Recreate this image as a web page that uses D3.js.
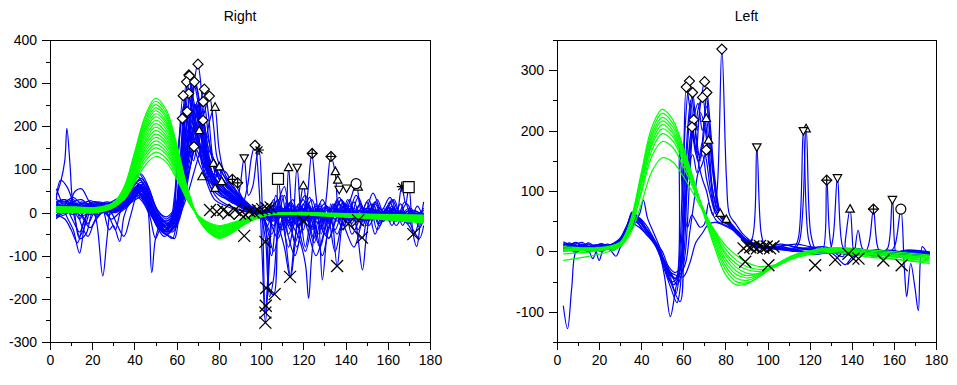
<!DOCTYPE html>
<html lang="en">
<head>
<meta charset="utf-8">
<title>Right / Left</title>
<script src="https://d3js.org/d3.v7.min.js"></script>
<style>
body { margin: 0; background: #fff; }
.axis path, .axis line { fill: none; stroke: #000; shape-rendering: crispEdges; }
.axis text { font-family: "Liberation Sans", Arial, sans-serif; font-size: 14px; fill: #000; }
.title { font-family: "Liberation Sans", Arial, sans-serif; font-size: 14px; fill: #000; }
</style>
</head>
<body>
<script>
// ---- Right panel data ----
var rightPulses = [
  [[3,15],[7,22],[11,12],[15,18],[19,10],[23,14],[27,8],[31,16],[35,28],[39,45],[43,60],[47,25],[51,-20],[55,-35],[59,-15],[62,40],[65,150],[68,290],[70,344],[72,270],[74,160],[77,90],[80,60],[84,40],[88,25],[92,12],[96,5],[100,0],[104,-8],[108,5],[112,-12],[116,2],[120,-10],[125,-3],[130,-12],[135,-5],[140,-10],[146,-4],[152,-12],[158,-6],[164,-10],[170,-5],[177,-8]],
  [[3,-15],[6,8],[9,30],[12,-20],[14,-55],[17,-25],[20,12],[24,5],[28,-5],[32,12],[36,30],[40,70],[44,50],[48,0],[52,-30],[56,-45],[59,-20],[61,60],[63,200],[65.8,319],[68,230],[70,150],[72,200],[74,120],[77,70],[81,45],[85,30],[89,15],[93,5],[97,0],[100,-5],[103,-30],[106,10],[110,-40],[114,20],[118,-20],[122,15],[126,-15],[131,10],[136,-20],[141,5],[147,-15],[153,8],[159,-10],[165,0],[171,-12],[177,-5]],
  [[3,40],[5,70],[7,120],[8,195],[9.5,110],[11,20],[14,-15],[17,10],[21,18],[25,8],[29,14],[33,25],[37,40],[41,85],[45,60],[49,10],[53,-25],[57,-30],[60,10],[63,180],[66,317],[68,260],[70,220],[73,140],[76,80],[80,55],[84,45],[88,30],[92,15],[96,5],[100,-2],[104,-10],[109,15],[114,-25],[119,10],[124,-5],[130,-15],[136,0],[142,-10],[148,5],[154,-8],[160,-2],[166,-12],[172,-6],[177,-10]],
  [[3,55],[5,30],[8,-10],[11,-40],[14,-94],[16,-40],[19,20],[22,25],[26,12],[30,8],[34,18],[38,35],[42,55],[46,30],[50,-15],[54,-40],[58,-25],[61,80],[64.7,303],[67,240],[69,180],[71,230],[73,130],[76,70],[79,50],[83,35],[87,25],[91,10],[95,3],[100,-4],[104,5],[108,-10],[113,8],[118,-15],[124,0],[130,-10],[137,3],[144,-12],[151,0],[158,-9],[165,-3],[171,-10],[177,-6]],
  [[3,20],[7,25],[11,15],[15,20],[19,25],[22,-20],[25,-147],[27,-60],[29,10],[32,25],[35,30],[39,50],[43,40],[47,5],[51,-30],[55,-50],[59,-30],[62,20],[65,160],[68.4,303],[71,250],[73,190],[75,120],[78,80],[81,60],[85,40],[89,22],[93,10],[97,2],[100,-3],[103,-60],[105,-100],[107,-20],[110,40],[113,-50],[116,-10],[120,30],[124,-40],[128,10],[132,-20],[137,20],[142,-15],[148,10],[154,-12],[160,5],[166,-10],[172,0],[177,-8]],
  [[3,30],[5,75],[8,60],[11,20],[14,-60],[17,-50],[20,0],[24,20],[28,-40],[30,-30],[33,-67],[35,-10],[38,30],[42,65],[46,40],[50,-5],[54,-30],[58,-20],[61,50],[63.5,200],[65.7,276],[68,200],[70,250],[72,180],[75,100],[78,70],[82,50],[86,35],[90,20],[94,8],[98,0],[101,-10],[105,-50],[108,20],[111,60],[114,-30],[117,-80],[120,-20],[124,30],[128,-30],[132,-60],[136,-10],[140,20],[145,-20],[150,10],[156,-15],[162,5],[168,-10],[174,-2],[177,-6]],
  [[3,5],[8,10],[12,50],[15,55],[18,30],[21,10],[25,15],[29,0],[32,-30],[35,-55],[38,-10],[41,40],[45,70],[48,40],[51,0],[55,-25],[58,-15],[60,80],[63.1,271],[65,220],[67,150],[69,200],[71,150],[73,100],[76,60],[80,40],[84,30],[88,20],[92,10],[96,3],[100,0],[104,-12],[108,3],[113,-18],[118,0],[123,-14],[128,2],[134,-10],[140,5],[146,-12],[152,2],[158,-10],[164,0],[170,-12],[177,-4]],
  [[3,20],[7,15],[11,25],[15,-30],[18,-55],[21,-20],[25,15],[29,-20],[31,-40],[34,10],[38,25],[42,45],[46,20],[50,-25],[54,-55],[58,-40],[61,-10],[64,60],[67,120],[70,220],[73.1,286],[75,230],[77,130],[79,90],[82,60],[86,40],[90,25],[94,10],[98,2],[102,-5],[106,-20],[110,10],[114,-30],[118,5],[122,-20],[127,10],[132,-15],[138,5],[144,-10],[150,0],[156,-10],[162,-2],[168,-12],[174,-4],[177,-8]],
  [[3,10],[7,12],[11,8],[15,14],[19,10],[23,6],[27,12],[31,18],[35,30],[39,55],[43,45],[47,10],[51,-15],[55,-30],[59,-10],[62,20],[65,80],[68,140],[71,200],[73,230],[75.5,270],[77.5,200],[79,130],[81,100],[84,70],[88,45],[92,20],[96,5],[100,-2],[104,0],[108,-8],[113,5],[118,-10],[124,-2],[130,-12],[136,-4],[142,-12],[148,-3],[155,-10],[162,-4],[170,-10],[177,-6]],
  [[3,25],[7,30],[11,18],[15,25],[19,18],[23,25],[27,20],[31,30],[35,40],[39,60],[43,75],[47,35],[51,-10],[55,-20],[59,0],[62,60],[65,150],[68,200],[70,230],[72.6,257],[75,180],[77,120],[80,80],[83,65],[87,50],[91,30],[95,15],[99,5],[102,0],[106,15],[110,-5],[114,25],[118,-10],[122,20],[126,-5],[131,15],[136,-10],[141,10],[147,-8],[153,6],[159,-8],[165,2],[171,-8],[177,-3]],
  [[3,0],[7,5],[11,-5],[15,5],[19,0],[23,8],[27,2],[31,10],[35,20],[39,40],[43,30],[47,-5],[50,-60],[52,-40],[56,-25],[59,-5],[62,100],[65,234],[67,180],[69,150],[71,180],[73,120],[76,60],[80,30],[84,18],[88,10],[92,4],[96,0],[100,-4],[104,-15],[108,-5],[112,-20],[116,-8],[120,-18],[125,-6],[130,-16],[135,-5],[141,-15],[147,-6],[153,-14],[159,-6],[165,-14],[171,-6],[177,-10]],
  [[3,12],[7,8],[11,15],[15,10],[19,5],[23,12],[27,8],[31,5],[35,15],[39,35],[43,50],[47,20],[51,-20],[55,-40],[58,-10],[60.5,120],[62.7,218],[65,160],[67,200],[69,140],[71,110],[73,90],[76,70],[79,60],[82,45],[86,30],[90,15],[94,5],[98,0],[101,-5],[104,-195],[106,-150],[108,-30],[111,40],[114,-20],[118,-60],[121,-120],[122.5,-199],[124,-100],[127,10],[130,-40],[134,20],[138,-30],[143,10],[148,-20],[153,5],[159,-15],[165,0],[171,-10],[177,-5]],
  [[3,-10],[7,0],[11,10],[15,5],[19,-5],[23,5],[27,0],[31,10],[35,15],[39,30],[43,55],[47,25],[51,-10],[55,-35],[58,-45],[61,-20],[64,40],[67,120],[70,180],[72.5,214],[74.5,160],[76,120],[78,110],[80,90],[83,70],[86,50],[90,30],[94,15],[98,5],[102,0],[106,-10],[110,5],[114,-15],[118,0],[122,-12],[127,3],[133,-10],[139,0],[145,-10],[151,-2],[157,-10],[163,-3],[169,-10],[177,-5]],
  [[3,15],[7,10],[11,20],[15,12],[19,18],[23,10],[27,15],[31,20],[35,35],[39,50],[43,70],[47,45],[51,5],[55,-15],[59,5],[62,60],[65,120],[68.2,153],[71,130],[73,110],[76,90],[79,70],[82,65],[84.5,70],[86.4,77],[88.5,60],[91,35],[94,15],[97,5],[100,0],[104,-5],[108,8],[112,-8],[116,5],[121,-8],[126,4],[131,-8],[137,2],[143,-8],[149,2],[155,-6],[161,0],[167,-8],[173,-2],[177,-5]],
  [[3,5],[7,15],[11,0],[15,10],[19,5],[23,15],[27,5],[31,12],[35,25],[39,40],[43,60],[47,30],[51,-10],[55,-30],[59,-15],[62,80],[64.5,200],[67,240],[69,200],[71,140],[74,100],[77,70],[80,55],[84,40],[88,30],[91,20],[93.5,60],[95.5,130],[97.1,156],[99,60],[100.5,-100],[102,-255],[103.5,-150],[105,-20],[107,40],[110,-20],[113,-80],[115,-40],[118,20],[122,-30],[126,10],[130,-20],[135,15],[140,-15],[146,5],[152,-12],[158,0],[165,-10],[171,-3],[177,-7]],
  [[3,20],[7,10],[11,25],[15,30],[19,15],[23,20],[27,10],[31,5],[35,20],[39,45],[43,35],[47,0],[51,-30],[55,-45],[59,-35],[62,0],[65,100],[68,200],[70,230],[72,190],[74,130],[77,80],[80,50],[84,30],[88,20],[90,60],[92,127],[94,40],[96,60],[98,130],[99,145],[100.5,20],[102,-230],[103.5,-120],[105,-10],[108,30],[111,-40],[114,-150],[115.5,-100],[118,10],[121,40],[124,-20],[128,-80],[131,-20],[135,20],[139,-30],[144,10],[149,-20],[155,5],[161,-15],[167,0],[172,-12],[177,-6]],
  [[3,-5],[7,5],[11,0],[15,8],[19,3],[23,10],[27,5],[31,8],[35,18],[39,35],[43,45],[47,15],[51,-25],[55,-40],[59,-20],[62,40],[65,140],[68,220],[70,260],[72,200],[74,140],[77,90],[80,60],[84,40],[88,25],[92,12],[96,5],[99,0],[102,-60],[104,-180],[106,-190],[108,78],[110,0],[111.5,-50],[113,104],[115,-20],[117,105],[119,-20],[121,-80],[123,-30],[126,20],[130,-50],[134,-10],[138,30],[142,-20],[147,20],[151,-30],[156,10],[161,-20],[166,5],[171,-15],[177,-5]],
  [[3,8],[7,15],[11,10],[15,18],[19,12],[23,8],[27,14],[31,10],[35,22],[39,40],[43,50],[47,20],[51,-15],[55,-30],[59,-10],[62,30],[65,110],[68,190],[70,210],[72,170],[75,110],[78,70],[81,50],[85,35],[89,20],[93,10],[97,3],[101,0],[105,-20],[109,10],[113,-30],[117,0],[120,-40],[122,40],[124,137],[126,40],[128.5,-50],[131,40],[133,130],[135,95],[137,-20],[139,-40],[141,10],[143,40],[145,68],[147,10],[150,-30],[154,20],[158,-20],[162,15],[166,-10],[170,5],[174,-10],[177,-4]],
  [[3,18],[7,12],[11,20],[15,14],[19,20],[23,16],[27,22],[31,18],[35,30],[39,50],[43,65],[47,30],[51,-5],[55,-25],[59,-5],[62,50],[65,150],[67,210],[69,250],[71,200],[73,150],[76,100],[79,75],[82,60],[86,40],[90,22],[94,10],[98,3],[102,-3],[106,-30],[110,5],[114,-40],[118,10],[120,62],[122,0],[125,-60],[127,-20],[129,-156],[131,-60],[133,20],[136,-124],[138,-40],[141,30],[145,-30],[148,-133],[150,-50],[153,20],[157,-20],[161,25],[164,-10],[166.6,60],[168.5,20],[170,60],[172,-50],[173.7,-79],[175.5,-20],[177,25]],
  [[3,-12],[7,-5],[11,5],[15,-8],[19,0],[23,-5],[27,5],[31,0],[35,10],[39,25],[43,35],[47,10],[51,-35],[55,-50],[58,-60],[60,-20],[62,100],[64,190],[66,150],[68,120],[70,160],[72,110],[75,60],[78,30],[82,18],[86,10],[90,5],[94,0],[98,-3],[102,-10],[106,-2],[110,-12],[115,-2],[120,-14],[125,-4],[130,-14],[136,-4],[142,-14],[148,-4],[154,-14],[160,-5],[166,-12],[172,-5],[177,-9]],
  [[3,30],[7,25],[11,35],[15,20],[19,28],[23,20],[27,25],[31,22],[35,35],[39,55],[43,80],[47,50],[51,5],[55,-10],[59,10],[62,70],[65,160],[67,230],[69,250],[71,190],[73,160],[76,220],[78,244],[80,150],[82,100],[85,70],[88,50],[91,30],[95,12],[99,3],[103,-5],[107,10],[111,-15],[115,15],[119,-20],[123,5],[127,-25],[131,10],[135,-15],[140,15],[145,-15],[150,10],[155,-10],[160,10],[165,-8],[171,5],[177,-6]],
  [[3,0],[7,10],[11,5],[15,-10],[19,-35],[22,-15],[26,5],[30,0],[34,12],[38,30],[42,45],[46,25],[50,-20],[54,-45],[58,-30],[61,0],[64,60],[67,140],[70.7,190],[73,150],[75,100],[78,56],[81,72],[84,40],[88,25],[92,10],[96,2],[100,-5],[104,10],[108,-30],[111,-80],[113.7,-149],[116,-60],[119,0],[122,-40],[126,-100],[129,-60],[132,-10],[136,-50],[140,0],[144,-40],[148,-60],[150,-20],[154,0],[158,-20],[162,10],[166,-10],[170,-30],[172.5,-50],[175,-20],[177,-10]],
  [[3,10],[7,18],[11,5],[15,12],[19,8],[23,18],[27,10],[31,14],[35,25],[39,45],[43,55],[47,25],[51,-15],[55,-35],[59,-20],[62,60],[64.5,200],[66.5,280],[68.5,230],[70.5,170],[73,130],[75,100],[77,114],[78.5,80],[80,106],[82,70],[85,50],[89,30],[93,15],[97,5],[101,0],[105,15],[109,-10],[113,20],[117,-15],[121,25],[125,-10],[129,30],[133,-10],[137,35],[141,-5],[145,40],[149,0],[153,45],[157,5],[161,35],[165,-5],[169,20],[173,-10],[177,5]],
  [[3,22],[7,30],[11,12],[15,22],[19,14],[23,22],[27,15],[31,25],[35,35],[39,65],[43,90],[47,55],[51,0],[55,-20],[59,-5],[62,40],[65,130],[67,240],[69,300],[71,250],[73,170],[76,100],[79,70],[82,55],[86,40],[90,25],[94,12],[98,4],[102,-2],[106,8],[110,-6],[114,10],[118,-8],[122,15],[126,-5],[130,20],[134,-10],[138,30],[142,-15],[146,35],[150,-10],[154,25],[158,-12],[162,30],[166,-5],[170,10],[174,-10],[177,0]],
  [[3,12],[7,5],[11,18],[15,-5],[18,-25],[21,0],[25,10],[29,5],[33,20],[37,35],[41,60],[45,45],[48.2,-139],[50,-60],[53,-20],[57,-30],[60,0],[63,100],[67,230],[70,180],[73,120],[76,95],[79,85],[82,70],[86,50],[90,30],[94,15],[98,5],[102,-10],[106,30],[109,-40],[112,25],[116,-70],[119,-20],[123,35],[127,-50],[131,5],[135,-90],[138,-30],[142,30],[146,-40],[150,25],[154,-50],[158,10],[162,-30],[166,20],[170,-25],[174,15],[177,-20]],
  [[3,-8],[7,12],[11,-20],[14,-45],[17,-10],[21,15],[25,0],[29,10],[33,5],[37,25],[41,50],[45,30],[49,-15],[53,-45],[57,-55],[59,-60],[61,-10],[64,80],[68,200],[71,260],[73,210],[75,150],[78,120],[81,95],[84,75],[88,50],[92,30],[96,12],[100,3],[104,-20],[108,-60],[111,-10],[115,30],[118,-40],[121,-90],[124,-30],[128,20],[132,-60],[135,-20],[139,25],[143,-50],[147,-10],[151,30],[155,-40],[159,0],[163,30],[167,-30],[171,10],[175,-35],[177,-15]],
  [[3,5],[7,0],[11,10],[15,2],[19,12],[23,0],[27,8],[31,2],[35,12],[39,30],[43,40],[47,15],[51,-20],[55,-45],[59,-30],[62,0],[65,40],[68,90],[71,140],[74,180],[77,130],[80,100],[83,95],[86,70],[89,45],[92,25],[96,10],[100,0],[104,8],[108,-15],[112,15],[116,-25],[120,20],[124,-35],[128,15],[132,-25],[136,30],[140,-20],[144,25],[148,-30],[152,20],[156,-25],[160,15],[164,-20],[168,25],[172,-15],[177,10]],
  [[3,25],[7,10],[11,30],[15,5],[19,20],[23,-5],[27,15],[31,10],[35,25],[39,60],[42,90],[45,70],[48,20],[51,-25],[54,-40],[57,-20],[59,40],[61,160],[63.5,250],[66,190],[68,140],[70,170],[72,120],[75,90],[78,75],[81,65],[84,50],[88,35],[92,20],[96,8],[100,0],[103,-40],[106,-90],[109,-30],[113,20],[117,-30],[121,-10],[125,-70],[128,-20],[131,15],[135,-40],[139,5],[143,-25],[147,20],[151,-20],[155,30],[159,-15],[163,10],[167,-20],[171,0],[177,-12]],
  [[3,-5],[7,-15],[10,-40],[13,-70],[16,-20],[19,10],[22,-10],[25,5],[29,-15],[33,0],[37,15],[41,40],[45,55],[48,25],[51,-10],[55,-35],[59,-25],[62,30],[66,150],[69,200],[72,170],[75,130],[78,100],[81,80],[84,60],[88,40],[92,20],[96,8],[100,-2],[104,-20],[108,15],[112,-40],[116,-100],[119,-40],[122,10],[126,-40],[129,-100],[132,-40],[136,10],[140,-40],[144,-80],[148,-20],[152,10],[156,-30],[160,5],[164,-30],[168,0],[172,-40],[175,-60],[177,-30]],
  [[3,15],[7,8],[11,22],[15,14],[19,22],[23,15],[27,20],[31,12],[35,25],[39,40],[43,65],[47,40],[51,0],[55,-25],[59,-10],[62,60],[65,210],[67.5,310],[70,260],[72,180],[74,130],[77,110],[80,90],[83,70],[86,55],[90,35],[94,18],[98,6],[102,-5],[106,-15],[110,10],[114,-10],[118,20],[122,-15],[126,15],[130,-20],[134,10],[138,-15],[142,15],[147,-15],[152,10],[157,-10],[162,8],[167,-10],[172,5],[177,-8]]
];

var rightFitX = [3, 12, 22, 30, 35, 40, 45, 50, 55, 60, 65, 70, 75, 80, 86, 93, 102, 115, 135, 155, 177];
var rightFits = [
  [8,7,6,22,58,138,223,265,239,159,58,-12,-45,-60,-48,-25,-7,-3,-7,-12,-18],
  [3,2,1,20,57,134,217,258,232,155,57,-12,-44,-58,-46,-24,-7,-1,-4,-8,-10],
  [12,11,10,23,55,130,210,250,225,150,55,-11,-42,-56,-45,-24,-7,-4,-9,-14,-22],
  [6,5,4,20,53,126,204,243,219,146,53,-11,-41,-55,-44,-23,-7,-2,-5,-9,-13],
  [10,9,8,21,52,123,198,236,212,142,52,-11,-40,-53,-42,-22,-6,0,-3,-6,-8],
  [2,1,1,17,50,119,192,229,206,137,50,-10,-39,-52,-42,-22,-6,-3,-8,-13,-20],
  [14,13,12,22,49,115,186,222,200,133,49,-10,-38,-50,-40,-21,-6,-1,-5,-10,-15],
  [5,4,3,17,47,111,180,214,193,128,47,-10,-36,-48,-38,-20,-6,-2,-6,-10,-16],
  [9,8,7,18,45,107,173,206,185,124,45,-9,-35,-46,-37,-19,-6,0,-2,-5,-7],
  [4,3,2,15,44,103,166,198,178,119,44,-9,-34,-45,-36,-19,-5,-3,-7,-12,-18],
  [11,10,9,18,42,99,160,190,171,114,42,-9,-32,-43,-34,-18,-5,-2,-4,-8,-12],
  [7,6,5,15,40,95,153,182,164,109,40,-8,-31,-41,-33,-17,-5,-1,-5,-9,-14],
  [1,0,0,12,38,90,146,174,157,104,38,-8,-29,-39,-31,-16,-5,-4,-9,-15,-24],
  [13,12,11,17,37,86,139,166,149,100,37,-7,-28,-37,-30,-16,-4,0,-3,-6,-9],
  [6,5,4,14,35,82,133,158,142,95,35,-7,-27,-36,-29,-15,-4,-2,-6,-11,-17],
  [3,2,1,11,33,78,126,150,135,90,33,-7,-26,-34,-27,-14,-4,-1,-4,-7,-11],
  [9,8,7,14,31,73,118,140,126,84,31,-6,-24,-32,-26,-13,-4,-3,-6,-10,-14],
  [12,11,10,15,29,68,109,130,117,78,29,-6,-23,-30,-24,-13,-4,0,-2,-4,-6]
];

var rightPeaks = [[70.1,344],[65.8,319],[66,317],[64.7,303],[68.4,303],[65.7,276],[63.1,271],[73.1,286],[75.5,270],[72.6,257],[65,234],[62.7,218],[72.5,214],[68.2,153],[97.1,156]];
var rightRises = [[78.2,244],[70.7,190],[77.4,114],[80.2,106],[72,83],[78.2,56],[81.3,72],[113,104],[120,62],[135.2,95],[136.3,75],[146,59]];
var rightDrops = [[92,127],[117.1,105],[137,54],[140.5,57]];
var rightDiaPlus = [[86.4,77],[88.9,69],[124.2,137],[133.1,130]];
var rightStars = [[99,145],[166.6,60]];
var rightSquares = [[108,78],[169.9,59]];
var rightCircles = [[145,67]];
var rightCrosses = [[75.8,6],[79,2],[82.1,6],[84.5,-2],[87.6,6],[90,-2],[92.5,-5],[94.5,3],[96.5,0],[98.5,6],[100.5,8],[102.5,10],[104.5,12],
  [92,-54],[102,-68],[102.4,-175],[106.4,-189],[102.2,-216],[102,-232],[102,-255],[113.7,-149],[136,-124],[147.8,-58],[172.1,-50],[141.3,-26],[120,-20],[146,-18]];

// ---- Left panel data ----
var leftPulses = [
  [[3,10],[6,14],[9,6],[12,10],[15,5],[18,8],[21,4],[24,9],[27,12],[30,18],[33,35],[36,55],[39,48],[42,40],[45,25],[48,5],[51,-40],[53.8,-108],[56,-70],[58,-20],[60,150],[62.9,282],[65,230],[67,150],[69,120],[71,100],[73,70],[76,50],[79,45],[82,40],[85,30],[88,20],[91,12],[95,8],[100,4],[106,6],[112,0],[120,4],[128,-2],[136,3],[144,-3],[152,2],[160,-4],[168,0],[177,-3]],
  [[3,5],[6,8],[9,3],[12,6],[15,0],[18,4],[20,-15],[22,2],[25,5],[28,8],[31,15],[34,40],[37,60],[40,45],[43,30],[46,15],[49,0],[52,-30],[55,-60],[58.5,-83],[60,120],[61.4,272],[63,240],[65,180],[67,235],[69.1,255],[71,200],[73,120],[75,70],[78,55],[81,48],[84,40],[87,25],[90,15],[94,8],[98,5],[103,7],[110,2],[118,5],[126,-3],[134,2],[142,-4],[150,1],[158,-3],[166,2],[177,-2]],
  [[3,12],[6,10],[9,14],[12,8],[15,12],[18,6],[21,10],[24,7],[27,10],[30,20],[33,40],[36,62],[39,55],[42,35],[45,20],[48,2],[51,-25],[54,-50],[57,-45],[59,-10],[61.5,150],[64.4,263],[66.5,200],[68,240],[70.1,281],[72,220],[74,140],[76,80],[79,55],[82,45],[85,35],[88,22],[91,14],[95,8],[100,5],[106,8],[112,3],[120,6],[128,0],[136,4],[144,-2],[152,3],[160,-2],[168,2],[177,-1]],
  [[3,8],[6,4],[9,10],[12,5],[15,9],[18,3],[21,8],[24,5],[27,8],[30,16],[33,32],[36,50],[39,60],[41,85],[43,55],[46,30],[49,5],[52,-35],[55,-55],[57,-50],[59,-20],[61,80],[62.9,150],[64.9,218],[66.5,180],[68,150],[69.5,200],[71.2,263],[73,200],[75,120],[78,60],[80.4,53],[83,42],[86,30],[89,18],[92,12],[96,8],[101,5],[107,7],[114,2],[122,-5],[130,-2],[137,-22],[140,-10],[145,-5],[152,-8],[160,-4],[168,-6],[177,-4]],
  [[3,0],[6,3],[9,-2],[12,4],[15,-1],[18,3],[21,0],[24,4],[27,2],[30,12],[33,28],[36,45],[39,52],[42,40],[45,22],[48,5],[51,-20],[54,-40],[56,-45],[58,-35],[60,-10],[62,120],[64.1,206],[66,170],[68,160],[70.9,220],[72.5,160],[74,100],[77,63],[80,50],[83,40],[86,28],[89,18],[93,10],[97,6],[102,4],[108,2],[116,-1],[124,-4],[132,-2],[140,-6],[148,-3],[156,-6],[164,-3],[171,-6],[177,-4]],
  [[3,14],[6,10],[9,12],[12,15],[15,8],[18,10],[21,12],[24,10],[27,14],[30,22],[33,42],[36,65],[38,58],[41,42],[44,30],[47,12],[50,-10],[53,-30],[56,-45],[58,-40],[61,-20],[63,30],[65,80],[67,130],[68.5,140],[70.9,168],[72,184],[74,130],[76,80],[78,55],[81,45],[84,35],[87,25],[90,15],[94,10],[98,6],[104,6],[110,10],[116,4],[124,2],[132,-2],[140,1],[148,-3],[156,0],[164,-2],[172,-4],[177,-2]],
  [[3,6],[6,9],[9,5],[12,8],[15,4],[18,7],[21,5],[24,8],[27,6],[30,14],[33,30],[36,50],[39,45],[42,30],[45,18],[48,4],[51,-18],[54,-38],[56.5,-45],[58.2,173],[60,80],[62,40],[64,60],[66,50],[68,40],[70,45],[72,80],[74,60],[76,100],[78.3,335],[80.5,120],[82,60],[85,45],[88,30],[91,20],[94,12],[98,8],[103,5],[110,3],[118,0],[126,2],[134,-3],[142,0],[150,-4],[158,-2],[166,-5],[172,-3],[177,-4]],
  [[3,2],[6,5],[9,0],[12,4],[15,1],[17,-12],[19,2],[22,4],[25,3],[28,-8],[30,6],[33,25],[36,45],[39,40],[42,30],[45,20],[48,5],[51,-15],[54,-35],[57,-40],[60,-42],[63,-20],[66,15],[69,30],[72,45],[75,48],[78,45],[81,40],[84,35],[87,28],[90,20],[93,14],[97,10],[102,8],[108,10],[114,12],[120,8],[128,4],[136,0],[144,-2],[152,-3],[160,-5],[168,-4],[177,-6]],
  [[3,-90],[5,-128],[7,-60],[9,0],[12,8],[15,4],[18,6],[21,3],[24,6],[27,8],[30,12],[33,28],[36,48],[39,55],[42,40],[45,22],[48,6],[51,-20],[54,-45],[56.5,-70],[58,-40],[60,80],[62,200],[63.5,250],[65,190],[67,150],[69,160],[71,120],[73,90],[75,65],[78,50],[81,45],[84,38],[87,28],[90,15],[92.5,20],[94.9,172],[97,30],[99,8],[103,5],[108,3],[112,4],[114.5,20],[117,200],[119.5,20],[122,0],[126,2],[129,-2],[131,20],[133.2,122],[135.5,10],[138,-5],[141,0],[144,-5],[147,2],[148.5,20],[150.3,70],[152.5,5],[155,-5],[158,-2],[160.5,10],[163.3,70],[165,-30],[166.1,-75],[168,-20],[170,-60],[171.6,-98],[173.5,8],[175.5,0],[177,-2]],
  [[3,10],[6,12],[9,8],[12,12],[15,7],[18,11],[21,8],[24,12],[27,9],[30,18],[33,36],[36,58],[39,50],[42,36],[45,20],[48,0],[51,-30],[54,-60],[57,-85],[58.5,-60],[60.5,60],[62.5,140],[64.5,160],[66.5,130],[69,180],[71,150],[73,100],[75,70],[78,58],[81,50],[84,40],[87,30],[90,18],[93,12],[97,8],[102,6],[108,4],[112,2],[115,15],[118.3,203],[120.5,30],[123,2],[126,0],[128.1,118],[130.5,5],[133,-5],[136,-8],[137,20],[139.2,70],[141,-5],[143,35],[145,5],[148,-5],[151,-8],[154,-3],[157,5],[159.3,86],[161.5,-10],[164,-5],[168,-8],[172,-4],[177,-6]],
  [[3,4],[6,7],[9,2],[12,6],[15,3],[18,6],[21,2],[24,6],[27,4],[30,10],[33,24],[36,40],[39,55],[42,45],[45,28],[48,8],[51,-15],[54,-35],[57,-55],[59,-40],[61,0],[63,120],[65,220],[67,245],[69,200],[71,240],[73,180],[75,110],[77,70],[80,55],[83,45],[86,32],[89,20],[92,14],[96,9],[101,6],[107,4],[114,6],[121,2],[128,4],[135,0],[142,3],[150,-2],[158,1],[166,-3],[177,-2]],
  [[3,16],[6,12],[9,15],[12,10],[15,14],[18,9],[21,13],[24,10],[27,13],[30,20],[33,38],[35.6,65],[38,50],[41,35],[44,28],[47,15],[50,0],[53,-25],[56,-35],[58,-30],[60,20],[62,140],[64,200],[66,160],[68,230],[70,210],[72,150],[74,100],[76,70],[79,60],[82,48],[85,36],[88,24],[91,16],[95,10],[100,7],[106,12],[112,8],[118,5],[126,8],[134,3],[142,5],[150,0],[158,2],[166,-2],[177,-1]]
];

var leftFitX = [3, 12, 22, 30, 35, 40, 45, 50, 55, 60, 65, 70, 75, 80, 85, 90, 96, 104, 114, 130, 150, 177];
var leftFits = [
  [3,4,5,14,52,130,205,235,218,172,118,58,5,-38,-55,-54,-42,-22,-4,2,-6,-14],
  [0,2,4,12,48,125,198,229,212,168,116,60,10,-30,-50,-52,-42,-22,-5,3,-4,-12],
  [6,5,6,15,50,122,192,222,206,164,114,62,15,-24,-44,-48,-40,-22,-5,5,0,-8],
  [-4,-2,2,10,42,115,186,216,200,160,112,64,20,-18,-38,-44,-38,-22,-5,6,2,-6],
  [2,3,4,12,44,112,180,210,195,156,110,65,24,-12,-32,-40,-36,-22,-6,4,-2,-10],
  [8,6,7,15,46,110,175,203,190,152,108,66,28,-6,-26,-36,-37,-25,-8,2,-5,-16],
  [-15,-10,-3,8,36,100,167,195,183,148,106,66,30,-2,-20,-30,-33,-24,-8,0,-8,-20],
  [4,4,5,12,40,96,157,182,172,140,102,65,32,4,-14,-25,-30,-24,-10,-2,-10,-18],
  [1,2,3,8,30,78,132,155,148,124,94,62,34,10,-6,-18,-25,-22,-8,4,-4,-10]
];

var leftPeaks = [[78.3,335],[62.9,282],[61.4,272],[64.4,263],[70.1,281],[71.2,263],[69.1,255],[64.9,218],[64.1,206],[70.9,168]];
var leftRises = [[70.9,220],[72,184],[77.5,63],[80.4,53],[118.3,203],[139.2,70]];
var leftDrops = [[94.9,173],[117,200],[133.2,122],[159.3,86]];
var leftDiaPlus = [[128.1,118],[150.3,70]];
var leftCircles = [[163.3,70]];
var leftCrosses = [[88.6,5],[90.2,10],[91.8,7],[93.3,8],[94.9,5],[96.4,9],[98,6],[99.6,8],[101.2,5],[102.8,8],
  [89.4,-17],[100.4,-23],[122.6,-23],[132.1,-14],[138.4,-4],[140.8,-12],[143.2,-12],[155,-15],[163.7,-23]];

var xMajor = [0, 20, 40, 60, 80, 100, 120, 140, 160, 180];
var xMinor = [10, 30, 50, 70, 90, 110, 130, 150, 170];

var plotTop = 40, plotBottom = 342;

var svg = d3.select("body").append("svg")
    .attr("width", 957)
    .attr("height", 385);

// marker shapes (scilab style marks)
function mark(g, type, cx, cy) {
    var p = "";
    if (type == "diamond" || type == "diaplus") {
        p = "M" + cx + "," + (cy - 5) + "L" + (cx + 5) + "," + cy + "L" + cx + "," + (cy + 5) + "L" + (cx - 5) + "," + cy + "Z";
    } else if (type == "up") {
        p = "M" + cx + "," + (cy - 4.5) + "L" + (cx + 4.2) + "," + (cy + 3) + "L" + (cx - 4.2) + "," + (cy + 3) + "Z";
    } else if (type == "down") {
        p = "M" + cx + "," + (cy + 4.5) + "L" + (cx + 4.2) + "," + (cy - 3) + "L" + (cx - 4.2) + "," + (cy - 3) + "Z";
    } else if (type == "square") {
        p = "M" + (cx - 5.5) + "," + (cy - 5.5) + "h11v11h-11Z";
    }
    if (p) {
        g.append("path").attr("d", p).attr("fill", "#fff").attr("stroke", "#000").attr("stroke-width", 1.2);
    }
    if (type == "circle") {
        g.append("circle").attr("cx", cx).attr("cy", cy).attr("r", 5)
            .attr("fill", "#fff").attr("stroke", "#000").attr("stroke-width", 1.2);
    }
    if (type == "diaplus") {
        g.append("path").attr("d", "M" + cx + "," + (cy - 5) + "V" + (cy + 5) + "M" + (cx - 5) + "," + cy + "H" + (cx + 5))
            .attr("stroke", "#000").attr("stroke-width", 1.2);
    }
    if (type == "cross") {
        g.append("path").attr("d", "M" + (cx - 6) + "," + (cy - 6) + "L" + (cx + 6) + "," + (cy + 6) + "M" + (cx - 6) + "," + (cy + 6) + "L" + (cx + 6) + "," + (cy - 6))
            .attr("stroke", "#000").attr("stroke-width", 1.3);
    }
    if (type == "star") {
        g.append("path").attr("d", "M" + cx + "," + (cy - 5) + "V" + (cy + 5) + "M" + (cx - 5) + "," + cy + "H" + (cx + 5) +
            "M" + (cx - 3.5) + "," + (cy - 3.5) + "L" + (cx + 3.5) + "," + (cy + 3.5) + "M" + (cx - 3.5) + "," + (cy + 3.5) + "L" + (cx + 3.5) + "," + (cy - 3.5))
            .attr("stroke", "#000").attr("stroke-width", 1.2);
    }
}

function drawPanel(p) {
    var x = d3.scaleLinear().domain([0, 180]).range([p.left, p.right]);
    var y = d3.scaleLinear().domain(p.yDomain).range([plotBottom, plotTop]);
    var g = svg.append("g");

    g.append("clipPath").attr("id", "clip-" + p.name)
        .append("rect")
        .attr("x", p.left).attr("y", plotTop)
        .attr("width", p.right - p.left).attr("height", plotBottom - plotTop);

    var line = d3.line()
        .x(function (d) { return x(d[0]); })
        .y(function (d) { return y(d[1]); })
        .curve(d3.curveCatmullRom.alpha(0.5));

    var plot = g.append("g").attr("clip-path", "url(#clip-" + p.name + ")");

    // measured pulses first, fitted curves over them
    plot.selectAll(".pulse")
        .data(p.pulses)
        .enter().append("path")
        .attr("class", "pulse")
        .attr("d", line)
        .attr("fill", "none")
        .attr("stroke", "#0000ff")
        .attr("stroke-width", 1.2)
        .attr("stroke-linejoin", "round");

    var fitRows = p.fits.map(function (f) {
        return f.map(function (v, i) { return [p.fitX[i], v]; });
    });
    plot.selectAll(".fit")
        .data(fitRows)
        .enter().append("path")
        .attr("class", "fit")
        .attr("d", line)
        .attr("fill", "none")
        .attr("stroke", "#00ff00")
        .attr("stroke-width", 1.2);

    // frame
    g.append("rect")
        .attr("x", p.left).attr("y", plotTop)
        .attr("width", p.right - p.left).attr("height", plotBottom - plotTop)
        .attr("fill", "none").attr("stroke", "#000").attr("stroke-width", 1)
        .style("shape-rendering", "crispEdges");

    // axes
    var fmt = function (d) { return String(d); };
    g.append("g").attr("class", "axis")
        .attr("transform", "translate(0," + plotBottom + ")")
        .call(d3.axisBottom(x).tickValues(xMajor).tickSize(8).tickSizeOuter(0).tickPadding(5).tickFormat(fmt));
    g.append("g").attr("class", "axis")
        .attr("transform", "translate(0," + plotBottom + ")")
        .call(d3.axisBottom(x).tickValues(xMinor).tickSize(4).tickSizeOuter(0).tickFormat(""))
        .call(function (a) { a.select(".domain").remove(); });
    g.append("g").attr("class", "axis")
        .attr("transform", "translate(" + p.left + ",0)")
        .call(d3.axisLeft(y).tickValues(p.yMajor).tickSize(8).tickSizeOuter(0).tickPadding(5).tickFormat(fmt));
    g.append("g").attr("class", "axis")
        .attr("transform", "translate(" + p.left + ",0)")
        .call(d3.axisLeft(y).tickValues(p.yMinor).tickSize(4).tickSizeOuter(0).tickFormat(""))
        .call(function (a) { a.select(".domain").remove(); });

    g.append("text")
        .attr("class", "title")
        .attr("x", (p.left + p.right) / 2)
        .attr("y", 21)
        .attr("text-anchor", "middle")
        .text(p.name);

    // marks on top
    var mg = g.append("g");
    p.marks.forEach(function (m) {
        m[1].forEach(function (d) { mark(mg, m[0], x(d[0]), y(d[1])); });
    });
}

drawPanel({
    name: "Right",
    left: 50, right: 430,
    yDomain: [-300, 400],
    yMajor: [-300, -200, -100, 0, 100, 200, 300, 400],
    yMinor: [-250, -150, -50, 50, 150, 250, 350],
    pulses: rightPulses,
    fitX: rightFitX,
    fits: rightFits,
    marks: [["cross", rightCrosses], ["diamond", rightPeaks], ["up", rightRises], ["down", rightDrops],
            ["diaplus", rightDiaPlus], ["star", rightStars], ["square", rightSquares], ["circle", rightCircles]]
});

drawPanel({
    name: "Left",
    left: 557, right: 936,
    yDomain: [-150, 350],
    yMajor: [-100, 0, 100, 200, 300],
    yMinor: [-150, -50, 50, 150, 250, 350],
    pulses: leftPulses,
    fitX: leftFitX,
    fits: leftFits,
    marks: [["cross", leftCrosses], ["diamond", leftPeaks], ["up", leftRises], ["down", leftDrops],
            ["diaplus", leftDiaPlus], ["circle", leftCircles]]
});
</script>
</body>
</html>
